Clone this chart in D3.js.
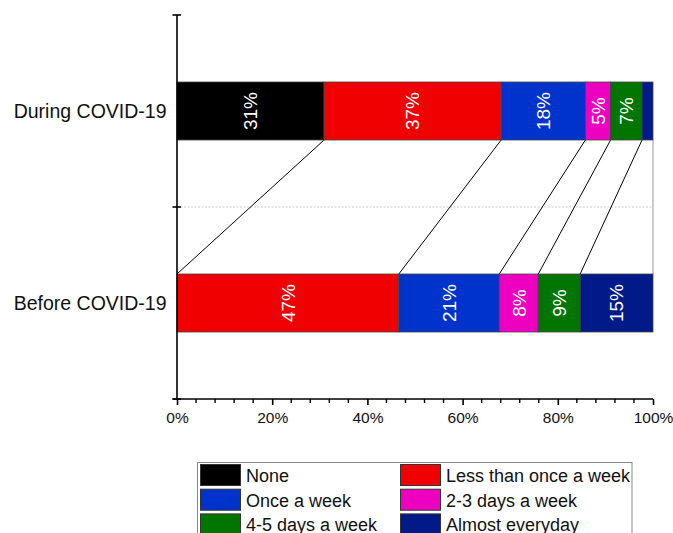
<!DOCTYPE html>
<html>
<head>
<meta charset="utf-8">
<script src="https://cdn.jsdelivr.net/npm/d3@7"></script>
<style>
  html, body { margin: 0; padding: 0; background: #fff; }
  svg { display: block; font-family: "Liberation Sans", Arial, sans-serif; }
</style>
</head>
<body>
<svg id="chart" width="673" height="533"></svg>
<script>
// ---- data ----
const categories = ["None", "Less than once a week", "Once a week", "2-3 days a week", "4-5 days a week", "Almost everyday"];
const periods = ["During COVID-19", "Before COVID-19"];
const duringValues = [30.9, 37.2, 17.7, 5.3, 6.6, 2.3];
const beforeValues = [0, 46.6, 21.1, 8.2, 8.8, 15.3];
const xTickValues = [0, 20, 40, 60, 80, 100];
const xMinorTicks = d3.range(0, 101, 4);
const colors = ["#000000", "#f00000", "#0033cc", "#ee00c0", "#007500", "#001a8a"];

const seriesByPeriod = { "During COVID-19": duringValues, "Before COVID-19": beforeValues };

const svg = d3.select("#chart");
const x = d3.scaleLinear().domain([0, 100]).range([177, 653]);
const y = d3.scaleBand().domain(periods).range([15, 399]).paddingInner(0.698).paddingOuter(0.349);
const color = d3.scaleOrdinal().domain(categories).range(colors);

// stacked data
const stacked = periods.map(p => {
  let acc = 0;
  return seriesByPeriod[p].map((v, i) => {
    const s = { period: p, cat: categories[i], v: v, x0: acc, x1: acc + v };
    acc += v;
    return s;
  });
});

// dotted light grid line at band boundary
const boundaries = [y.range()[0], y.range()[0] + y.step(), y.range()[0] + 2 * y.step()];
svg.append("line")
  .attr("x1", x(0)).attr("x2", x(100))
  .attr("y1", boundaries[1]).attr("y2", boundaries[1])
  .attr("stroke", "#dddddd").attr("stroke-width", 1.5).attr("stroke-dasharray", "2,1.5");

// connector lines between bars
const topStack = stacked[0], botStack = stacked[1];
const yTopBottom = y(periods[0]) + y.bandwidth();
const yBotTop = y(periods[1]);
for (let i = 0; i < categories.length; i++) {
  const last = i === categories.length - 1;
  svg.append("line")
    .attr("x1", x(topStack[i].x1)).attr("y1", yTopBottom)
    .attr("x2", x(botStack[i].x1)).attr("y2", yBotTop)
    .attr("stroke", last ? "#999" : "#000").attr("stroke-width", 1);
}

// bars
stacked.forEach(row => {
  const g = svg.append("g");
  g.selectAll("rect").data(row.filter(d => d.v > 0)).join("rect")
    .attr("x", d => x(d.x0))
    .attr("y", d => y(d.period))
    .attr("width", d => x(d.x1) - x(d.x0))
    .attr("height", y.bandwidth())
    .attr("fill", d => color(d.cat))
    .attr("stroke", "#444")
    .attr("stroke-width", 0.8);
  g.selectAll("text").data(row.filter(d => d.v >= 3)).join("text")
    .attr("transform", d => `translate(${(x(d.x0) + x(d.x1)) / 2},${y(d.period) + y.bandwidth() / 2}) rotate(-90)`)
    .attr("text-anchor", "middle")
    .attr("dy", "0.36em")
    .attr("fill", "#fff")
    .attr("font-size", 19)
    .text(d => Math.round(d.v) + "%");
});

// y axis
svg.append("line").attr("x1", x(0)).attr("x2", x(0))
  .attr("y1", boundaries[0]).attr("y2", boundaries[2])
  .attr("stroke", "#000").attr("stroke-width", 1.6);
boundaries.forEach(b => {
  svg.append("line").attr("x1", x(0) - 4.5).attr("x2", x(0) + 4)
    .attr("y1", b).attr("y2", b).attr("stroke", "#000").attr("stroke-width", 1.6);
});
periods.forEach(p => {
  svg.append("text")
    .attr("x", 166.5).attr("y", y(p) + y.bandwidth() / 2)
    .attr("dy", "0.35em")
    .attr("text-anchor", "end")
    .attr("font-size", 19.5)
    .attr("fill", "#111")
    .text(p);
});

// x axis
const xAxisY = boundaries[2];
const xAxis = svg.append("g").attr("transform", `translate(0,${xAxisY})`);
xAxis.call(d3.axisBottom(x).tickValues(xTickValues).tickFormat(d => d + "%").tickSize(6).tickSizeOuter(0));
xAxis.select(".domain").attr("stroke-width", 1.6).attr("d", `M${x(0) - 4.5},0H${x(100)}`);
xAxis.selectAll(".tick line").attr("stroke-width", 1.6);
xAxis.selectAll(".tick text").attr("font-size", 15.5).attr("y", 13).attr("fill", "#111")
  .attr("font-family", "'Liberation Sans', Arial, sans-serif");
xAxis.selectAll(".minor").data(xMinorTicks.filter(d => !xTickValues.includes(d))).join("line")
  .attr("class", "minor")
  .attr("x1", d => x(d)).attr("x2", d => x(d))
  .attr("y1", 0).attr("y2", 4)
  .attr("stroke", "#000").attr("stroke-width", 1.4);

// legend
const legend = svg.append("g");
legend.append("rect").attr("x", 197.5).attr("y", 462.5).attr("width", 434.5).attr("height", 80)
  .attr("fill", "#fff").attr("stroke", "#888").attr("stroke-width", 1);
categories.forEach((c, i) => {
  const col = i % 2, row = Math.floor(i / 2);
  const lx = col === 0 ? 200.5 : 400.5;
  const ly = 464.5 + row * 24.7;
  legend.append("rect").attr("x", lx).attr("y", ly).attr("width", 40).attr("height", 21)
    .attr("fill", color(c)).attr("stroke", "#333").attr("stroke-width", 1);
  legend.append("text").attr("x", lx + 45.5).attr("y", ly + 17.5)
    .attr("font-size", 18).attr("fill", "#111").text(c);
});
</script>
</body>
</html>
